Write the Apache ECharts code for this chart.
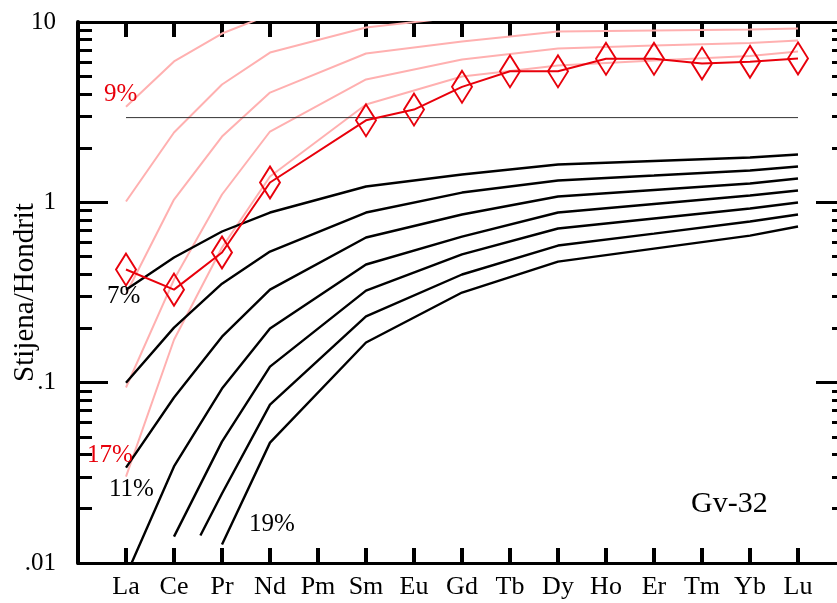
<!DOCTYPE html>
<html>
<head>
<meta charset="utf-8">
<script src="https://cdn.jsdelivr.net/npm/echarts@6/dist/echarts.min.js"></script>
<style>
  html, body { margin: 0; padding: 0; background: #fff; }
  #chart { width: 837px; height: 603px; }
</style>
</head>
<body>
<div id="chart"></div>
<script>
// ---- data ----
const REE = ['La','Ce','Pr','Nd','Pm','Sm','Eu','Gd','Tb','Dy','Ho','Er','Tm','Yb','Lu'];
const yTickValues = [0.01, 0.1, 1, 10];
const yTickLabels = ['.01', '.1', '1', '10'];
const yMinorTicks = [0.02,0.03,0.04,0.05,0.06,0.07,0.08,0.09,0.2,0.3,0.4,0.5,0.6,0.7,0.8,0.9,2,3,4,5,6,7,8,9];

const sampleGv32 = [0.424, 0.328, 0.527, 1.288, null, 2.85, 3.27, 4.37, 5.33, 5.33, 6.25, 6.25, 5.89, 6.02, 6.28];
const referenceLevel = 2.95;

// pink model curves (9% .. 17%)
const pink9  = [3.39, 6.04, 8.63, 11.0, null, null, null, null, null, null, null, null, null, null, null];
const pink11 = [1.01, 2.44, 4.50, 6.77, null, 9.32, null, 10.7, null, null, null, null, null, null, null];
const pink13 = [0.310, 1.036, 2.317, 4.06, null, 6.69, null, 7.80, null, 8.86, null, 8.97, null, 9.09, 9.20];
const pink15 = [0.094, 0.373, 1.105, 2.47, null, 4.80, null, 6.19, null, 7.13, null, 7.41, null, 7.65, 7.90];
const pink17 = [0.0301, 0.173, 0.5615, 1.39, null, 3.49, null, 4.99, null, 5.74, null, 6.12, null, 6.48, 6.86];

// black model curves (7% .. 19%)
const black7  = [0.328, 0.494, 0.689, 0.878, null, 1.224, null, 1.426, null, 1.621, null, 1.695, null, 1.772, 1.841];
const black9  = [0.100, 0.202, 0.354, 0.533, null, 0.878, null, 1.133, null, 1.321, null, 1.408, null, 1.501, 1.580];
const black11 = [0.0338, 0.0827, 0.180, 0.328, null, 0.638, null, 0.856, null, 1.077, null, 1.170, null, 1.271, 1.355];
const black13 = [0.0085, 0.0343, 0.0928, 0.1995, null, 0.452, null, 0.646, null, 0.878, null, 0.979, null, 1.091, 1.163];
const black15 = [null, 0.0140, 0.0471, 0.1228, null, 0.324, null, 0.514, null, 0.716, null, 0.813, null, 0.924, 0.998];
const black17 = [null, null, 0.0243, 0.0756, null, 0.233, null, 0.398, null, 0.576, null, 0.671, null, 0.783, 0.856];
const black17Start = [1.55, 0.0142];
const black19 = [null, null, 0.01265, 0.0465, null, 0.167, null, 0.316, null, 0.469, null, 0.554, null, 0.654, 0.734];

// ---- build ----
const FONT = '"Liberation Serif", "Times New Roman", serif';
function pairs(arr) {
  return arr.map((v, i) => (v == null ? null : [i, v])).filter(Boolean);
}
function modelLine(arr, color, width, z) {
  return {
    type: 'line', data: pairs(arr), symbol: 'none', showSymbol: false,
    lineStyle: { color: color, width: width }, z: z, silent: true, clip: true
  };
}
const PINK = '#ffb0b0';
const BLACK = '#000000';
const RED = '#e8000b';

const series = [];
[pink9, pink11, pink13, pink15, pink17].forEach(a => series.push(modelLine(a, PINK, 2, 2)));
[black7, black9, black11, black13, black15].forEach(a => series.push(modelLine(a, BLACK, 2.4, 3)));
const b17 = modelLine(black17, BLACK, 2.4, 3);
b17.data = [black17Start].concat(b17.data);
series.push(b17);
series.push(modelLine(black19, BLACK, 2.4, 3));
series.push({
  type: 'line', data: [[0, referenceLevel], [REE.length - 1, referenceLevel]],
  symbol: 'none', lineStyle: { color: '#333', width: 1 }, z: 3, silent: true
});
series.push({
  type: 'line', data: pairs(sampleGv32), symbol: 'diamond', symbolSize: [20, 32],
  showSymbol: true,
  lineStyle: { color: RED, width: 2 },
  itemStyle: { color: 'rgba(0,0,0,0)', borderColor: RED, borderWidth: 2 },
  z: 5, silent: true
});

function yAxisMajor(pos, withLabels) {
  return {
    type: 'log', logBase: 10, min: 0.01, max: 10, position: pos,
    axisLine: { show: true, onZero: false, lineStyle: { color: '#000', width: 4 } },
    axisTick: { show: true, inside: true, length: 30, customValues: yTickValues, lineStyle: { color: '#000', width: 3 } },
    axisLabel: {
      show: withLabels, customValues: yTickValues, margin: 22,
      fontFamily: FONT, fontSize: 25, color: '#000',
      formatter: v => yTickLabels[Math.round(Math.log10(v)) + 2]
    },
    splitLine: { show: false },
    name: withLabels ? 'Stijena/Hondrit' : '',
    nameLocation: 'middle', nameRotate: 90, nameGap: 38, nameMoveOverlap: false,
    nameTextStyle: { fontFamily: FONT, fontSize: 29, color: '#000' }
  };
}
function yAxisMinor(pos) {
  return {
    type: 'log', logBase: 10, min: 0.01, max: 10, position: pos,
    axisLine: { show: false, onZero: false },
    axisTick: { show: true, inside: true, length: 14, customValues: yMinorTicks, lineStyle: { color: '#000', width: 3 } },
    axisLabel: { show: false },
    splitLine: { show: false }
  };
}
function xAxis(pos, withLabels) {
  return {
    type: 'value', min: -1, max: 15, interval: 1, position: pos,
    axisLine: { show: true, onZero: false, lineStyle: { color: '#000', width: 3 } },
    axisTick: { show: true, inside: true, length: 15, lineStyle: { color: '#000', width: 4 } },
    axisLabel: {
      show: withLabels, margin: 11, fontFamily: FONT, fontSize: 26, color: '#000',
      formatter: v => (v >= 0 && v < REE.length ? REE[v] : '')
    },
    splitLine: { show: false }
  };
}

const labelStyle = (text, x, y, color, size) => ({
  type: 'text', left: x, top: y, silent: true, z: 10,
  style: { text: text, fill: color, font: size + 'px ' + FONT }
});

const option = {
  animation: false,
  backgroundColor: '#fff',
  grid: { left: 78, top: 22, width: 768, height: 541, containLabel: false, outerBoundsMode: 'none' },
  xAxis: [xAxis('bottom', true), xAxis('top', false)],
  yAxis: [yAxisMajor('left', true), yAxisMinor('left'), yAxisMajor('right', false), yAxisMinor('right')],
  series: series,
  graphic: [
    labelStyle('9%', 104, 82, RED, 25),
    labelStyle('7%', 107, 284, BLACK, 25),
    labelStyle('17%', 87, 443, RED, 25),
    labelStyle('11%', 109, 477, BLACK, 25),
    labelStyle('19%', 249, 512, BLACK, 25),
    labelStyle('Gv-32', 691, 489, BLACK, 30)
  ]
};

const chart = echarts.init(document.getElementById('chart'), null, { renderer: 'canvas' });
chart.setOption(option);
</script>
</body>
</html>
